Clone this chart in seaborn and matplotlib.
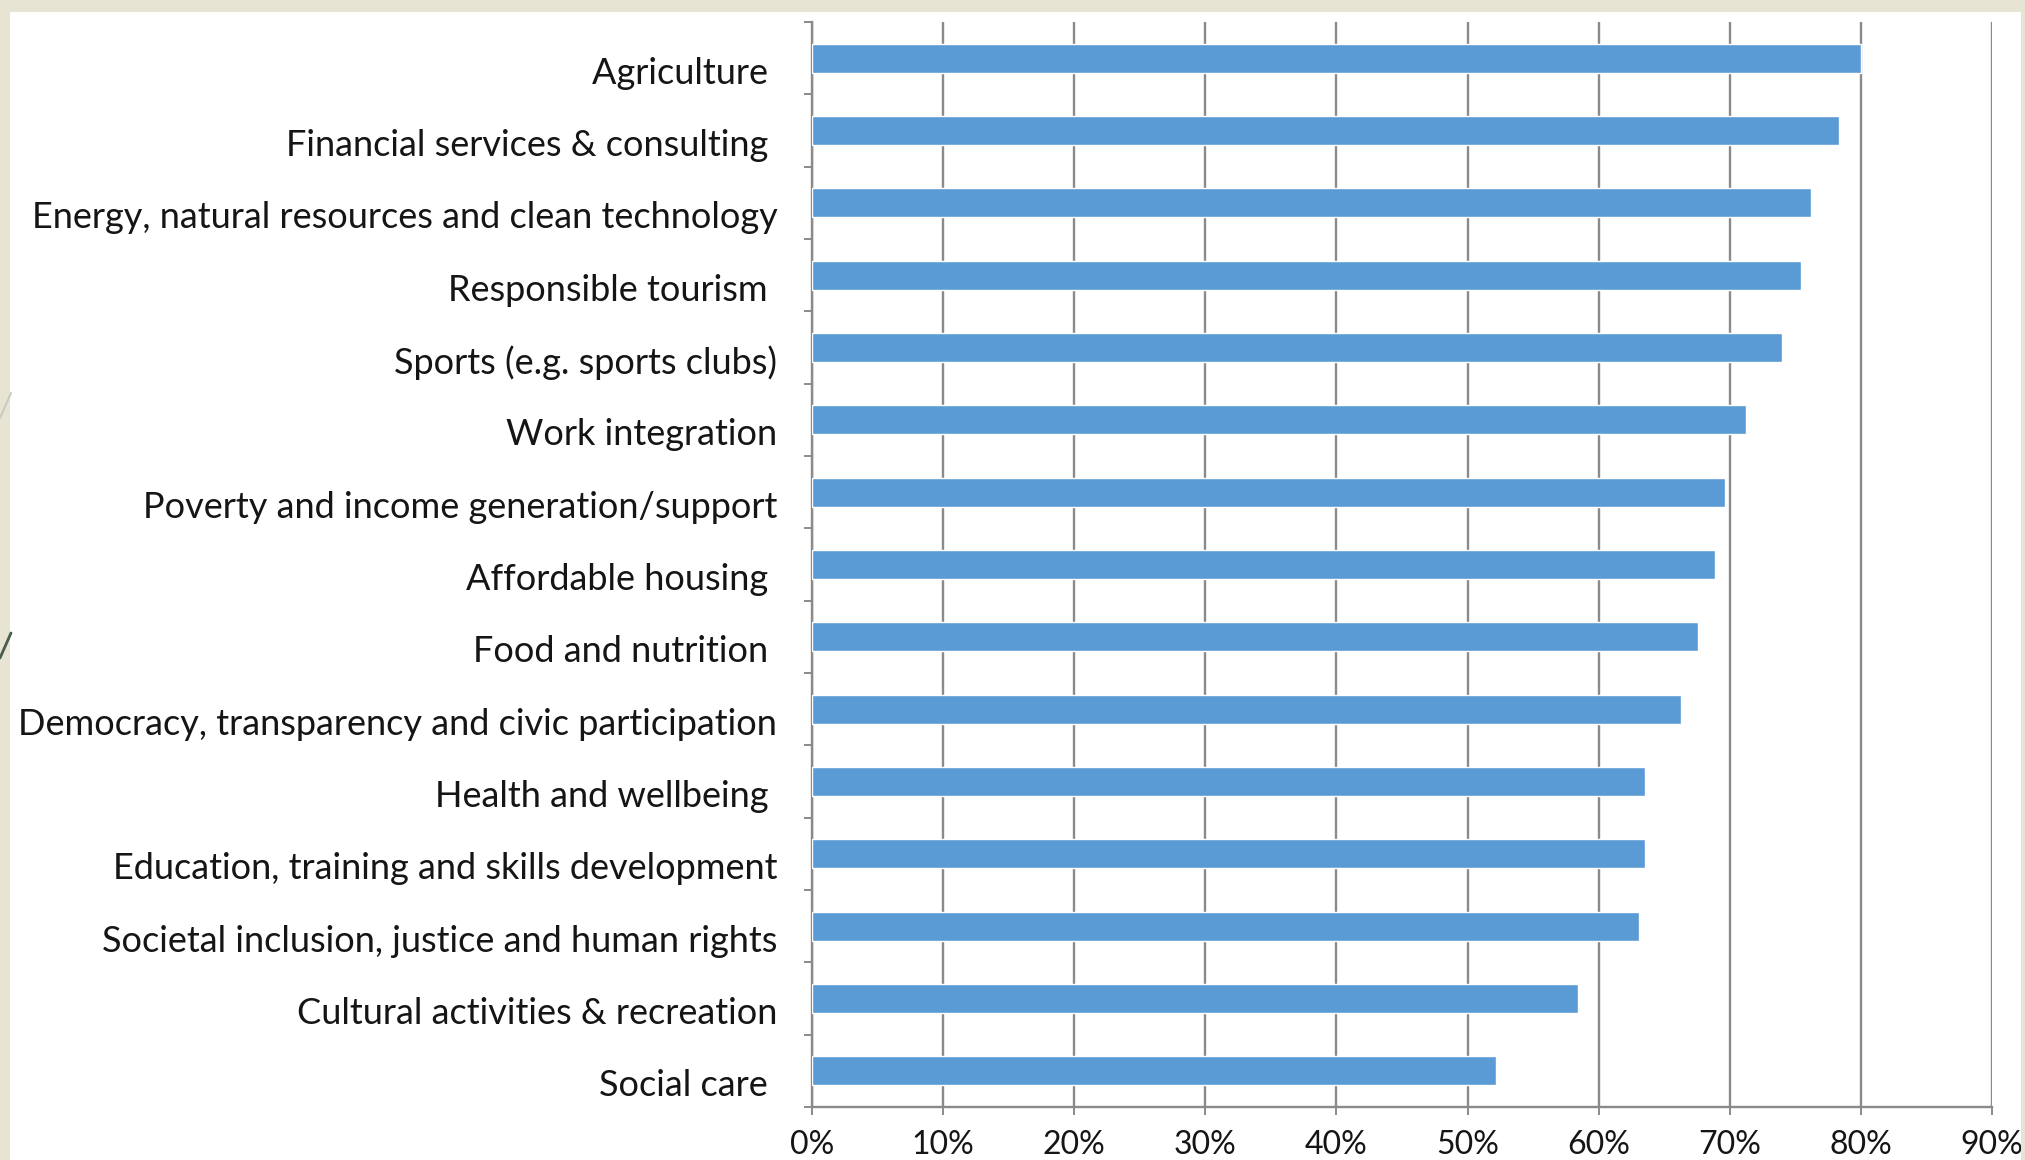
import matplotlib
matplotlib.use("Agg")
import matplotlib.pyplot as plt
import matplotlib.transforms as mtransforms
from matplotlib.patches import Rectangle
from matplotlib.lines import Line2D
from matplotlib.ticker import PercentFormatter, MultipleLocator, FixedLocator
import seaborn as sns
import pandas as pd

# Sectors, ranked by share of respondents
categories = [
    "Agriculture ",
    "Financial services & consulting ",
    "Energy, natural resources and clean technology",
    "Responsible tourism ",
    "Sports (e.g. sports clubs)",
    "Work integration",
    "Poverty and income generation/support",
    "Affordable housing ",
    "Food and nutrition ",
    "Democracy, transparency and civic participation",
    "Health and wellbeing ",
    "Education, training and skills development",
    "Societal inclusion, justice and human rights",
    "Cultural activities & recreation",
    "Social care ",
]
shares = [0.800, 0.783, 0.762, 0.754, 0.740, 0.712, 0.696, 0.689,
          0.676, 0.663, 0.635, 0.635, 0.631, 0.584, 0.522]
x_ticks = [0.0, 0.1, 0.2, 0.3, 0.4, 0.5, 0.6, 0.7, 0.8, 0.9]

df = pd.DataFrame({"sector": categories, "share": shares})

sns.set_theme(style="white")
plt.rcParams["font.family"] = ["Lato", "DejaVu Sans"]

W, H, DPI = 2025, 1160, 100
BEIGE = "#E7E4D4"
GRID = "#8A8A8A"
BAR = "#5B9BD5"
TEXT = "#151515"

fig = plt.figure(figsize=(W / DPI, H / DPI), dpi=DPI, facecolor=BEIGE)

# white slide panel
fig.patches.append(Rectangle((10 / W, 0), (2021 - 10) / W, (H - 12) / H,
                             transform=fig.transFigure, facecolor="white",
                             edgecolor="none", zorder=-1))
# slide ornaments on the left margin
fig.lines.append(Line2D([0, 11 / W], [1 - 418 / H, 1 - 393 / H],
                        transform=fig.transFigure, color="#C9CCC0", lw=1.5))
fig.lines.append(Line2D([0, 11 / W], [1 - 658 / H, 1 - 633 / H],
                        transform=fig.transFigure, color="#4A5E4E", lw=2.0))

ax = fig.add_axes([812 / W, 53 / H, (1992 - 812) / W, (1107 - 22) / H])
ax.set_facecolor("white")

sns.barplot(data=df, x="share", y="sector", orient="h", color=BAR,
            saturation=1, width=0.4, ax=ax, zorder=3)

ax.set_xlim(0, 0.9)
ax.set_ylim(len(categories) - 0.5, -0.5)
ax.set_xlabel("")
ax.set_ylabel("")

# vertical gridlines
ax.xaxis.set_major_locator(FixedLocator(x_ticks))
ax.xaxis.set_major_formatter(PercentFormatter(1.0, decimals=0))
ax.xaxis.grid(True, color=GRID, linewidth=1.7)
ax.yaxis.grid(False)
ax.set_axisbelow(True)

for side in ("top", "right"):
    ax.spines[side].set_visible(False)
for side in ("left", "bottom"):
    ax.spines[side].set_color(GRID)
    ax.spines[side].set_linewidth(1.7)

# category separators on the y axis
ax.yaxis.set_minor_locator(MultipleLocator(1.0, offset=0.5))
ax.tick_params(axis="y", which="minor", left=True, length=5.8, width=1.4,
               color=GRID, direction="out")
ax.tick_params(axis="y", which="major", left=True, length=0, pad=25,
               labelsize=26, labelcolor=TEXT)
ax.tick_params(axis="x", which="major", bottom=True, length=5.8, width=1.4,
               color=GRID, direction="out", pad=11, labelsize=23,
               labelcolor=TEXT)

# labels sit a little below the bar centres
offset = mtransforms.ScaledTranslation(0, -12 / DPI, fig.dpi_scale_trans)
for lab in ax.get_yticklabels():
    lab.set_transform(lab.get_transform() + offset)

# right slide margin
fig.patches.append(Rectangle((2021 / W, 0), 1 - 2021 / W, 1,
                             transform=fig.transFigure, facecolor=BEIGE,
                             edgecolor="none", zorder=10))

fig.savefig("out.png", dpi=DPI, facecolor=BEIGE)
